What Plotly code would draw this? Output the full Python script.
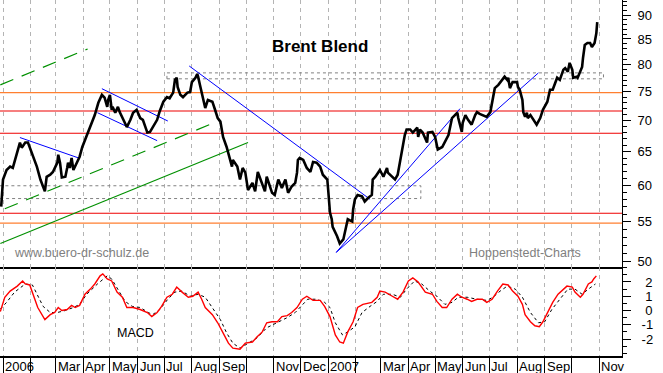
import pandas as pd
import plotly.graph_objects as go

# ---------------- data ----------------
BASE = "2006-01-01"

price_day = [
    -2, 0, 4, 8, 11, 16, 19, 21, 25, 28, 30, 34, 38, 42, 45, 47, 49, 53, 56, 61,
    62, 64, 66, 70, 72, 73, 75, 77, 79, 83, 86, 89, 92, 95, 100, 103, 107, 111, 114, 117,
    118, 120, 122, 123, 126, 129, 131, 135, 139, 143, 146, 150, 154, 157, 162, 165, 168, 173, 176, 180,
    184, 187, 191, 193, 195, 196, 199, 202, 207, 210, 212, 216, 218, 219, 221, 223, 227, 230, 235, 238,
    241, 244, 247, 251, 255, 257, 258, 263, 266, 269, 272, 274, 275, 280, 283, 286, 291, 294, 296, 300,
    302, 305, 309, 313, 317, 320, 324, 328, 330, 331, 333, 337, 341, 345, 348, 352, 356, 359, 364, 365,
    367, 369, 370, 375, 378, 382, 384, 387, 392, 393, 395, 398, 403, 406, 410, 414, 415, 418, 421, 423,
    427, 431, 432, 437, 440, 443, 446, 449, 451, 453, 457, 460, 465, 466, 468, 471, 476, 477, 482, 485,
    488, 493, 496, 500, 504, 507, 510, 511, 515, 516, 519, 522, 526, 530, 532, 535, 539, 543, 547, 549,
    550, 552, 556, 560, 561, 563, 566, 567, 569, 571, 572, 577, 578, 580, 583, 584, 586, 588, 589, 592,
    594, 595, 599, 603, 606, 611, 612, 614, 617, 620, 622, 625, 627, 629, 631, 634, 636, 639, 640, 644,
    645, 648, 650, 651, 653, 656, 659, 661, 664, 666, 667,
]
price_close = [
    57.0, 60.8, 62.2, 62.7, 62.5, 65.0, 66.4, 65.6, 66.4, 66.4, 65.7, 64.2, 62.7, 60.8, 59.8, 59.1, 61.2, 61.5, 61.9, 63.3,
    64.5, 63.3, 61.1, 61.2, 62.5, 63.3, 62.5, 64.0, 62.2, 63.3, 64.2, 65.7, 66.8, 67.6, 69.6, 70.9, 73.0, 74.4, 73.9, 72.3,
    73.5, 74.4, 71.8, 72.3, 71.3, 72.3, 71.4, 70.1, 68.9, 70.1, 71.3, 71.8, 70.4, 70.1, 68.0, 68.1, 68.9, 70.1, 71.6, 73.2,
    74.0, 73.8, 74.8, 77.1, 77.5, 75.8, 74.4, 74.0, 74.8, 74.9, 76.7, 77.5, 78.2, 77.7, 76.2, 74.8, 72.1, 73.5, 73.2, 71.8,
    70.4, 69.8, 67.3, 65.7, 63.7, 62.7, 63.7, 62.7, 60.8, 62.5, 61.8, 60.1, 59.3, 60.3, 59.1, 61.9, 60.1, 59.1, 61.2, 59.8,
    58.9, 58.6, 60.8, 59.6, 60.8, 58.9, 59.8, 60.3, 61.8, 63.7, 64.0, 63.7, 62.5, 61.9, 63.4, 63.3, 62.7, 61.5, 60.8, 59.3,
    56.2, 55.3, 54.3, 53.1, 52.2, 52.7, 53.6, 55.3, 55.0, 56.6, 58.0, 58.6, 58.4, 57.7, 58.2, 58.6, 60.8, 61.2, 61.8, 62.2,
    61.2, 62.5, 61.8, 61.1, 60.8, 61.5, 63.7, 65.7, 67.6, 68.5, 68.5, 68.0, 68.8, 67.3, 68.5, 68.0, 66.4, 68.0, 68.1, 67.3,
    65.3, 65.7, 66.5, 67.6, 70.4, 70.9, 71.3, 70.4, 68.1, 69.6, 70.9, 70.1, 69.3, 70.9, 71.4, 71.1, 70.8, 70.6, 71.4, 73.0,
    74.4, 75.6, 76.2, 77.1, 77.1, 77.7, 77.1, 77.5, 75.6, 76.2, 76.7, 76.7, 75.8, 75.3, 73.5, 71.4, 70.6, 71.3, 70.4, 70.9,
    70.4, 70.1, 69.3, 70.4, 71.8, 73.2, 74.0, 75.3, 75.3, 76.6, 77.5, 77.1, 78.0, 79.0, 79.3, 78.6, 80.3, 79.0, 77.5, 77.7,
    77.5, 78.6, 79.5, 81.2, 83.8, 84.2, 84.2, 83.4, 84.2, 86.2, 88.5,
]

macd_day = [
    -3, 2, 8, 16, 22, 25, 30, 34, 39, 47, 53, 58, 62, 66, 72, 77, 81, 86, 92, 98,
    103, 109, 112, 117, 122, 128, 134, 139, 146, 154, 162, 167, 173, 178, 184, 190, 195, 201, 208, 213,
    219, 223, 227, 235, 241, 247, 253, 258, 266, 272, 280, 285, 291, 296, 302, 308, 313, 319, 324, 330,
    336, 341, 348, 356, 361, 367, 373, 378, 382, 387, 393, 398, 404, 414, 420, 423, 429, 437, 443, 449,
    455, 460, 466, 474, 482, 487, 493, 498, 504, 510, 515, 521, 526, 532, 538, 543, 549, 555, 561, 567,
    572, 578, 583, 586, 592, 597, 602, 606, 612, 617, 623, 629, 633, 639, 642, 648, 651, 657, 661, 663,
    666,
]
macd_value = [
    -0.07, 0.93, 1.36, 1.71, 2.07, 1.86, 1.79, 1.14, 0.21, -0.64, -0.29, -0.14, 0.21, 0.0, 0.07, 0.36, 0.21, 0.36, 1.14, 1.5,
    1.86, 2.43, 2.57, 2.21, 2.07, 1.29, 0.93, 0.21, 0.21, 0.07, -0.14, -0.43, -0.14, 0.29, 0.93, 1.14, 1.64, 1.29, 0.93, 1.0,
    1.29, 0.79, 0.21, -0.29, -0.86, -1.57, -2.29, -2.64, -2.71, -2.29, -2.21, -1.86, -1.5, -0.86, -0.79, -0.79, -0.43, -0.36, -0.14, 0.21,
    0.79, 1.0, 0.71, 0.71, 0.29, -0.43, -1.71, -2.21, -2.29, -1.5, -0.79, 0.21, 0.43, 0.57, 0.93, 1.36, 1.29, 1.0, 0.79, 1.29,
    2.07, 2.29, 2.0, 1.29, 1.14, 0.64, 0.21, 0.21, 0.79, 1.14, 0.93, 0.79, 0.64, 0.79, 0.79, 0.57, 0.79, 1.36, 1.86, 1.79,
    1.36, 1.0, 0.43, -0.29, -0.79, -1.07, -1.14, -0.79, -0.07, 0.57, 1.14, 1.5, 1.71, 1.64, 1.29, 0.93, 1.14, 1.86, 2.0, 2.21,
    2.43,
]

signal_day = [
    -3, 4, 13, 25, 33, 38, 45, 53, 61, 70, 79, 86, 94, 106, 117, 122, 129, 137, 145, 154,
    163, 168, 176, 185, 193, 201, 210, 219, 227, 235, 244, 251, 258, 266, 275, 285, 296, 308, 319, 328,
    336, 342, 352, 361, 367, 373, 381, 387, 395, 403, 412, 420, 427, 437, 446, 453, 462, 470, 479, 487,
    496, 504, 511, 521, 532, 543, 550, 558, 566, 575, 583, 592, 601, 608, 616, 625, 634, 642, 650, 657,
    665,
]
signal_value = [
    0.1, 0.57, 1.29, 1.86, 1.79, 1.14, 0.29, -0.14, -0.14, 0.0, 0.21, 0.43, 1.14, 1.86, 2.43, 2.21, 1.5, 0.64, 0.29, 0.21,
    -0.14, -0.29, 0.07, 0.79, 1.29, 1.36, 1.0, 1.14, 0.93, 0.21, -0.64, -1.57, -2.29, -2.64, -2.29, -1.93, -1.21, -0.86, -0.5, -0.14,
    0.43, 0.79, 0.79, 0.57, 0.21, -0.86, -1.71, -1.5, -1.14, -0.14, 0.29, 0.64, 1.14, 1.14, 0.93, 1.5, 2.07, 1.86, 1.36, 1.0,
    0.43, 0.57, 0.93, 0.93, 0.79, 0.71, 0.93, 1.36, 1.71, 1.5, 0.93, -0.14, -0.86, -0.79, 0.07, 0.79, 1.5, 1.5, 1.14, 1.5,
    1.86,
]

# trend lines (start day, start price, end day, end price)
trend_x0 = [-3, 2, -3, 19, 111, 106, 209, 374, 374]
trend_y0 = [76.2, 56.7, 52.2, 67.2, 75.5, 71.3, 79.7, 51.1, 51.1]
trend_x1 = [95, 240, 275, 85, 185, 173, 412, 513, 601]
trend_y1 = [83.0, 69.8, 66.4, 64.0, 69.9, 66.7, 58.0, 72.0, 78.4]
trend_kind = ["green_dash", "green_dash", "green", "blue", "blue", "blue", "blue", "blue", "blue"]

# resistance / support levels
level_value = [74.8, 71.6, 67.9, 56.1, 54.8]
level_kind = ["orange", "red", "red", "red", "orange"]

# grey zones (start day, end day, low, high)
zone_x0 = [184, -10]
zone_x1 = [674, 469]
zone_lo = [77.3, 58.1]
zone_hi = [78.4, 59.9]

price_ticks = [50, 55, 60, 65, 70, 75, 80, 85, 90]
macd_ticks = [2, 1, 0, -1, -2]
macd_tick_text = ["\u00a02", "\u00a01", "\u00a00", "-1", "-2"]

month_starts = pd.date_range("2006-01-01", "2007-11-01", freq="MS")
month_labels = ["2006", "", "Mar", "Apr", "May", "Jun", "Jul", "Aug", "Sep", "", "Nov", "Dec",
                "2007", "", "Mar", "Apr", "May", "Jun", "Jul", "Aug", "Sep", "", "Nov"]

# ---------------- helpers ----------------
base = pd.Timestamp(BASE)


def to_date(days):
    return base + pd.to_timedelta(pd.Series(days, dtype=float), unit="D")


FONT = "Liberation Sans, Arial, sans-serif"
styles = {
    "green_dash": dict(color="#009000", width=1.2, dash="14px,9px"),
    "green": dict(color="#009000", width=1.2),
    "blue": dict(color="#0000ff", width=1),
    "orange": dict(color="#ff7f30", width=1.1),
    "red": dict(color="#ee0000", width=1.1),
}

X_START = pd.Timestamp("2005-12-28 15:00")
X_END = pd.Timestamp("2007-11-26 19:00")

fig = go.Figure()

# levels
for v, k in zip(level_value, level_kind):
    fig.add_trace(go.Scatter(x=[X_START - pd.Timedelta(days=5), X_END + pd.Timedelta(days=5)], y=[v, v],
                             mode="lines", line=styles[k], xaxis="x", yaxis="y", hoverinfo="skip"))

# zones
for a, b, lo, hi in zip(zone_x0, zone_x1, zone_lo, zone_hi):
    xs = to_date([a, b, b, a, a])
    fig.add_trace(go.Scatter(x=xs, y=[lo, lo, hi, hi, lo], mode="lines",
                             line=dict(color="#808080", width=1, dash="dot"),
                             xaxis="x", yaxis="y", hoverinfo="skip"))

# trend lines
for a, va, b, vb, k in zip(trend_x0, trend_y0, trend_x1, trend_y1, trend_kind):
    fig.add_trace(go.Scatter(x=to_date([a, b]), y=[va, vb], mode="lines", line=styles[k],
                             xaxis="x", yaxis="y", hoverinfo="skip"))

# price
fig.add_trace(go.Scatter(x=to_date(price_day), y=price_close, mode="lines",
                         line=dict(color="black", width=2.6), xaxis="x", yaxis="y"))

# MACD
fig.add_trace(go.Scatter(x=to_date(signal_day), y=signal_value, mode="lines",
                         line=dict(color="black", width=1, dash="3px,3px"), xaxis="x2", yaxis="y2"))
fig.add_trace(go.Scatter(x=to_date(macd_day), y=macd_value, mode="lines",
                         line=dict(color="#ff0000", width=1.4), xaxis="x2", yaxis="y2"))

grid_common = dict(showgrid=True, gridcolor="#b4b4b4", griddash="4px,4px", gridwidth=1,
                   tickmode="array", tickvals=month_starts, range=[X_START, X_END],
                   zeroline=False, type="date")

annotations = [
    dict(text="<b>Brent Blend</b>", x=0.515, y=0.868, xref="paper", yref="paper", showarrow=False,
         font=dict(size=17, color="black", family=FONT), xanchor="center", yanchor="middle"),
    dict(text="www.buero-dr-schulz.de", x=0.019, y=0.289, xref="paper", yref="paper", showarrow=False,
         font=dict(size=12.5, color="#808080", family=FONT), xanchor="left", yanchor="middle"),
    dict(text="Hoppenstedt-Charts", x=0.751, y=0.289, xref="paper", yref="paper", showarrow=False,
         font=dict(size=12.5, color="#808080", family=FONT), xanchor="left", yanchor="middle"),
    dict(text="MACD", x=0.185, y=0.0646, xref="paper", yref="paper", showarrow=False,
         font=dict(size=12.5, color="black", family=FONT), xanchor="left", yanchor="middle"),
]
for d, lab in zip(month_starts, month_labels):
    if lab:
        annotations.append(dict(text=lab, x=d, y=-0.029, xref="x2", yref="paper", showarrow=False,
                                xanchor="left", yanchor="middle", xshift=0,
                                font=dict(size=13, color="black", family=FONT)))

fig.update_layout(
    width=663, height=373,
    margin=dict(l=0, r=41, t=0, b=17),
    paper_bgcolor="white", plot_bgcolor="white",
    showlegend=False,
    font=dict(family=FONT, size=13, color="black"),
    xaxis=dict(**grid_common, domain=[0, 1], anchor="y", showticklabels=False, ticks="",
               showline=True, linecolor="black", linewidth=1.5),
    xaxis2=dict(**grid_common, domain=[0, 1], anchor="y2", matches="x", showticklabels=False,
                ticks="outside", ticklen=17, tickcolor="black", tickwidth=1,
                showline=True, linecolor="black", linewidth=1.5),
    yaxis=dict(domain=[0.25, 1], anchor="x", side="right", type="log",
               range=[1.6933, 1.9698], tickmode="array", tickvals=price_ticks,
               ticktext=[str(t) for t in price_ticks],
               ticks="outside", ticklen=8, tickcolor="black", tickwidth=1,
               minor=dict(dtick="L1", tick0=0, ticks="outside", ticklen=4, tickcolor="black", showgrid=False),
               showgrid=False, zeroline=False, showline=True, linecolor="black", linewidth=1,
               ticklabelstandoff=4, tickfont=dict(size=13, color="black", family=FONT)),
    yaxis2=dict(domain=[0, 0.25], anchor="x2", side="right",
                range=[-3.19, 3.05], tickmode="array", tickvals=macd_ticks, ticktext=macd_tick_text,
                ticks="outside", ticklen=8, tickcolor="black", tickwidth=1,
                minor=dict(dtick=0.5, tick0=0, ticks="outside", ticklen=4, tickcolor="black", showgrid=False),
                showgrid=False, zeroline=False, showline=True, linecolor="black", linewidth=1,
                ticklabelstandoff=8, tickfont=dict(size=13, color="black", family=FONT)),
    annotations=annotations,
)

assert len(price_day) == len(price_close)
assert len(macd_day) == len(macd_value)
assert len(signal_day) == len(signal_value)

fig.write_html("out.html", config={"displayModeBar": False},
               post_script="document.body.style.margin='0';document.body.style.padding='0';")
